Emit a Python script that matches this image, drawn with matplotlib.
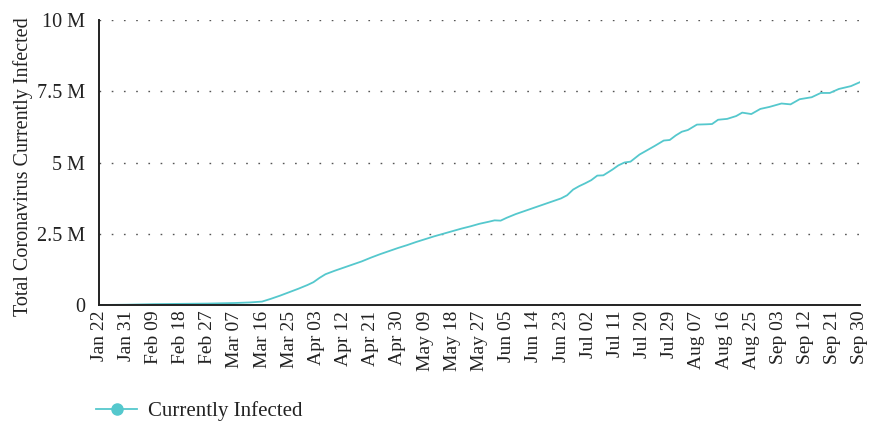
"""
Total coronavirus currently infected (world), Jan 22 - Sep 30 2020.
"""

import numpy as np
import pandas as pd
import matplotlib
matplotlib.use("Agg")
import matplotlib.pyplot as plt
import matplotlib.dates as mdates

plt.rcParams["font.family"] = ["Liberation Serif", "DejaVu Serif"]

START = "2020-01-22"

# days since Jan 22 and active cases (millions)
day_offsets = [0, 9, 18, 27, 36, 45, 50, 54, 57, 60, 63, 66, 69, 71, 73, 75,
               78, 81, 84, 87, 90, 93, 96, 99, 102, 105, 108, 111, 114, 117,
               120, 123, 126, 129, 131, 133, 135, 138, 141, 144, 147, 150, 153,
               155, 157, 159, 161, 163, 165, 167, 170, 172, 174, 176, 179, 181,
               184, 187, 189, 191, 193, 195, 198, 201, 203, 205, 208, 211, 213,
               216, 219, 222, 226, 229, 232, 236, 239, 242, 245, 249, 252]
infected_m = [0.00, 0.01, 0.03, 0.04, 0.05, 0.07, 0.09, 0.12, 0.22, 0.33,
              0.45, 0.57, 0.70, 0.80, 0.95, 1.08, 1.20, 1.31, 1.42, 1.53,
              1.66, 1.78, 1.89, 2.00, 2.10, 2.21, 2.31, 2.41, 2.50, 2.59,
              2.68, 2.76, 2.85, 2.92, 2.97, 2.96, 3.06, 3.19, 3.30, 3.41,
              3.52, 3.63, 3.74, 3.85, 4.05, 4.17, 4.27, 4.38, 4.54, 4.55,
              4.75, 4.90, 5.00, 5.03, 5.28, 5.40, 5.58, 5.77, 5.79, 5.95,
              6.08, 6.14, 6.33, 6.34, 6.35, 6.50, 6.53, 6.63, 6.75, 6.70,
              6.88, 6.95, 7.07, 7.04, 7.22, 7.29, 7.44, 7.44, 7.58, 7.68,
              7.82]

y_ticks = [0, 2.5e6, 5e6, 7.5e6, 10e6]
y_tick_labels = ["0", "2.5 M", "5 M", "7.5 M", "10 M"]

LINE_COLOR = "#55c8cd"
TEXT_COLOR = "#222222"

dates = pd.Timestamp(START) + pd.to_timedelta(day_offsets, unit="D")
values = np.array(infected_m) * 1e6

fig = plt.figure(figsize=(8.72, 4.29), dpi=100)
ax = fig.add_axes([99 / 872, 1 - 305 / 429, 761 / 872, 285 / 429])

ax.plot(dates, values, color=LINE_COLOR, linewidth=1.3,
        label="Currently Infected")

tick_dates = pd.date_range(START, "2020-09-30", freq="9D")
ax.set_xticks(tick_dates)
ax.xaxis.set_major_formatter(mdates.DateFormatter("%b %d"))
ax.set_xlim(pd.Timestamp(START), pd.Timestamp("2020-09-30"))
ax.set_ylim(0, 10e6)
ax.set_yticks(y_ticks)
ax.set_yticklabels(y_tick_labels)

ax.tick_params(axis="x", length=0, pad=4, labelsize=14, rotation=90,
               colors=TEXT_COLOR)
ax.tick_params(axis="y", length=0, pad=10, labelsize=14.5, colors=TEXT_COLOR)

ax.grid(axis="y", color="#555555", linewidth=1.0,
        linestyle=(0, (1.2, 7.6)))
ax.set_axisbelow(True)
for side in ["top", "right"]:
    ax.spines[side].set_visible(False)
for side in ["left", "bottom"]:
    ax.spines[side].set_linewidth(1.4)
    ax.spines[side].set_color(TEXT_COLOR)

ax.set_ylabel("Total Coronavirus Currently Infected", fontsize=14.5,
              color=TEXT_COLOR)
ax.yaxis.set_label_coords(-66 / 761, 0.484)

handle = plt.Line2D([], [], color=LINE_COLOR, linewidth=1.3, marker="o",
                    markersize=8, markerfacecolor=LINE_COLOR,
                    markeredgecolor=LINE_COLOR)
fig.legend([handle], ["Currently Infected"], loc="center left",
           bbox_to_anchor=(77 / 872, 1 - 411 / 429), frameon=False,
           fontsize=15, handlelength=2.0, handletextpad=0.5,
           labelcolor=TEXT_COLOR)

fig.savefig("out.png", dpi=100)
